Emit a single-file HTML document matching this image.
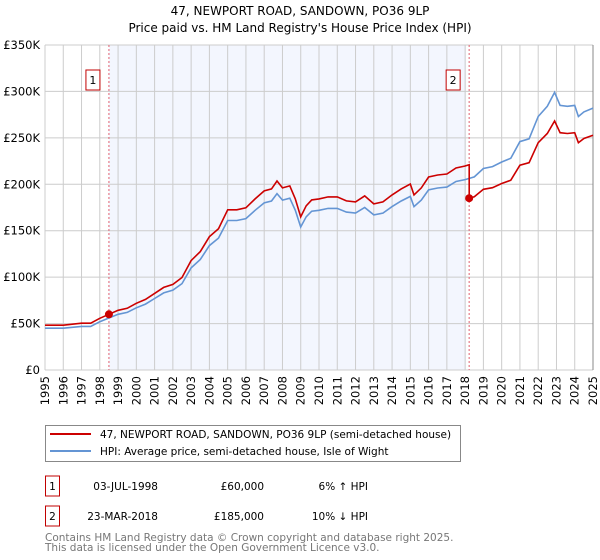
<!DOCTYPE html>
<html><head><meta charset="utf-8"><style>
body{margin:0;background:#fff;font-family:"DejaVu Sans","Liberation Sans",sans-serif;}
#wrap{position:relative;width:600px;height:560px;overflow:hidden}
</style></head><body><div id="wrap">
<svg id="c" width="600" height="560" style="position:absolute;left:0;top:0"></svg>
</div>
<script>
const years=[1995,1996,1997,1998,1999,2000,2001,2002,2003,2004,2005,2006,2007,2008,2009,2010,2011,2012,2013,2014,2015,2016,2017,2018,2019,2020,2021,2022,2023,2024,2025];
const yTicks=[0,50000,100000,150000,200000,250000,300000,350000];
const yTickLabels=["£0","£50K","£100K","£150K","£200K","£250K","£300K","£350K"];
const hpiDates=[1995,1995.5,1996,1996.5,1997,1997.5,1998,1998.5,1999,1999.5,2000,2000.5,2001,2001.5,2002,2002.5,2003,2003.5,2004,2004.5,2005,2005.5,2006,2006.5,2007,2007.4,2007.7,2008,2008.4,2008.7,2009,2009.3,2009.6,2010,2010.5,2011,2011.5,2012,2012.5,2013,2013.5,2014,2014.5,2015,2015.2,2015.6,2016,2016.5,2017,2017.5,2018,2018.5,2019,2019.5,2020,2020.5,2021,2021.5,2022,2022.5,2022.9,2023.2,2023.6,2024,2024.2,2024.5,2025];
const hpiValues=[45,45,45,46,47,47,52,56,60,62,67,71,77,83,86,93,110,119,134,142,161,161,163,172,180,182,190,183,185,172,154,165,171,172,174,174,170,169,175,167,169,176,182,187,176,183,194,196,197,203,205,208,217,219,224,228,246,249,273,284,299,285,284,285,273,278,282].map(v=>v*1000);
const saleDates=[1998.5,2018.22];
const salePrices=[60000,185000];
const saleLabels=["1","2"];
const X0=45,X1=593,Y0=370,Y1=45;
const xS=y=>X0+(y-1995)*(X1-X0)/30;
const yS=v=>Y0-v*(Y0-Y1)/350000;
const NS="http://www.w3.org/2000/svg";
const svg=document.getElementById('c');
function mk(t,a,p){const e=document.createElementNS(NS,t);for(const k in a)e.setAttribute(k,a[k]);(p||svg).appendChild(e);return e;}
function hpiAt(d){for(let i=0;i<hpiDates.length-1;i++){if(d<=hpiDates[i+1]){const f=(d-hpiDates[i])/(hpiDates[i+1]-hpiDates[i]);return hpiValues[i]+f*(hpiValues[i+1]-hpiValues[i]);}}return hpiValues[hpiValues.length-1];}
let t=mk('text',{x:300,y:15,'text-anchor':'middle','font-size':12,fill:'#000'});t.textContent='47, NEWPORT ROAD, SANDOWN, PO36 9LP';

t=mk('text',{x:300,y:32,'text-anchor':'middle','font-size':12,fill:'#000'});t.textContent="Price paid vs. HM Land Registry's House Price Index (HPI)";

let sh=mk('rect',{x:xS(saleDates[0]),y:Y1,width:xS(saleDates[1])-xS(saleDates[0])-3,height:Y0-Y1,fill:'#f3f6fe'});

years.forEach(y=>{const l=mk('line',{x1:xS(y),x2:xS(y),y1:Y1,y2:Y0,stroke:'#cccccc','stroke-width':1});

const tx=mk('text',{transform:`translate(${xS(y)+4},${Y0+6}) rotate(-90)`,'text-anchor':'end','font-size':11.5,fill:'#000'});tx.textContent=y;
});
yTicks.forEach((v,i)=>{const l=mk('line',{x1:X0,x2:X1,y1:yS(v),y2:yS(v),stroke:'#cccccc','stroke-width':1});

const tx=mk('text',{x:40,y:yS(v)+4,'text-anchor':'end','font-size':11.5,fill:'#000'});tx.textContent=yTickLabels[i];
});
let rl=mk('line',{x1:X1,x2:X1,y1:Y1,y2:Y0,stroke:'#888','stroke-width':1});

saleDates.forEach((d,i)=>{const l=mk('line',{x1:xS(d),x2:xS(d),y1:Y1,y2:Y0,stroke:'#e06070','stroke-width':1,'stroke-dasharray':'2,2'});

const r=mk('rect',{x:xS(d)-23,y:70,width:14,height:20,fill:'#fff',stroke:'#c00000','stroke-width':1});

const tx=mk('text',{x:xS(d)-16,y:84,'text-anchor':'middle','font-size':11,fill:'#000'});tx.textContent=saleLabels[i];
});
let dH=hpiDates.map((d,i)=>(i?'L':'M')+xS(d).toFixed(1)+','+yS(hpiValues[i]).toFixed(1)).join('');
let hp=mk('path',{d:dH,fill:'none',stroke:'#6495d4','stroke-width':1.6});

const r1=salePrices[0]/hpiAt(saleDates[0]),r2=salePrices[1]/hpiAt(saleDates[1]);
let pts=[];
hpiDates.forEach((d,i)=>{if(d<saleDates[1])pts.push([d,hpiValues[i]*r1]);});
pts.push([saleDates[1],hpiAt(saleDates[1])*r1]);pts.push([saleDates[1],salePrices[1]]);
hpiDates.forEach((d,i)=>{if(d>saleDates[1])pts.push([d,hpiValues[i]*r2]);});
let pp=mk('path',{d:pts.map((p,i)=>(i?'L':'M')+xS(p[0]).toFixed(1)+','+yS(p[1]).toFixed(1)).join(''),fill:'none',stroke:'#cc0000','stroke-width':1.6});

saleDates.forEach((d,i)=>{const c=mk('circle',{cx:xS(d),cy:yS(salePrices[i]),r:4,fill:'#cc0000'});
});
let lg=mk('g',{});
mk('rect',{x:45.5,y:425.5,width:415,height:36,fill:'#fff',stroke:'#888'},lg);
mk('line',{x1:50,x2:91,y1:434,y2:434,stroke:'#cc0000','stroke-width':2},lg);
mk('line',{x1:50,x2:91,y1:451,y2:451,stroke:'#6495d4','stroke-width':2},lg);
let a=mk('text',{x:100,y:438,'font-size':10.5,fill:'#000'},lg);a.textContent='47, NEWPORT ROAD, SANDOWN, PO36 9LP (semi-detached house)';

a=mk('text',{x:100,y:455,'font-size':10.5,fill:'#000'},lg);a.textContent='HPI: Average price, semi-detached house, Isle of Wight';

const rows=[["1","03-JUL-1998","£60,000","6% ↑ HPI",486],["2","23-MAR-2018","£185,000","10% ↓ HPI",516]];
rows.forEach(r=>{const g=mk('g',{});
mk('rect',{x:45.5,y:r[4]-10,width:14,height:20,fill:'#fff',stroke:'#c00000'},g);
let e=mk('text',{x:52.5,y:r[4]+4,'text-anchor':'middle','font-size':10.5},g);e.textContent=r[0];
e=mk('text',{x:158,y:r[4]+4,'text-anchor':'end','font-size':10.5},g);e.textContent=r[1];
e=mk('text',{x:264,y:r[4]+4,'text-anchor':'end','font-size':10.5},g);e.textContent=r[2];
e=mk('text',{x:368,y:r[4]+4,'text-anchor':'end','font-size':10.5},g);e.textContent=r[3];});
let f=mk('text',{x:45,y:541,'font-size':10.5,fill:'#777'});f.textContent='Contains HM Land Registry data © Crown copyright and database right 2025.';

f=mk('text',{x:45,y:551,'font-size':10.5,fill:'#777'});f.textContent='This data is licensed under the Open Government Licence v3.0.';

</script></body></html>
